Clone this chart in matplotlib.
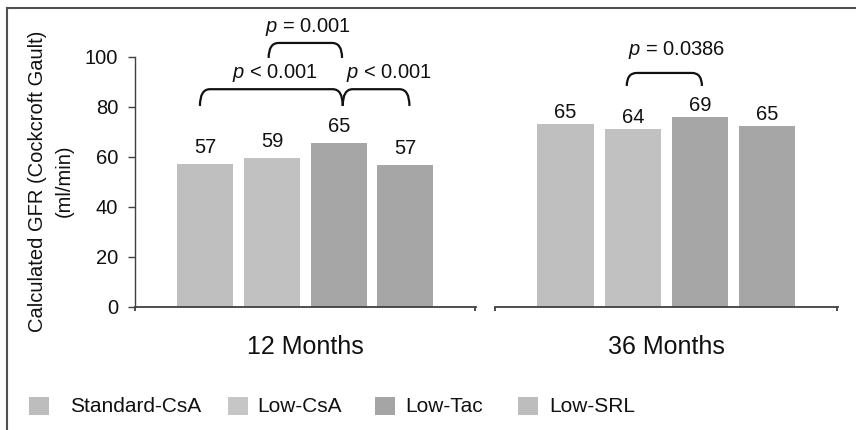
import matplotlib
matplotlib.use("Agg")
import matplotlib.pyplot as plt
from matplotlib.path import Path
from matplotlib.patches import PathPatch, Rectangle
from matplotlib.lines import Line2D
import matplotlib.transforms as mtransforms

plt.rcParams['font.family'] = ['Liberation Sans', 'DejaVu Sans']
plt.rcParams['mathtext.fontset'] = 'custom'
plt.rcParams['mathtext.rm'] = 'Liberation Sans'
plt.rcParams['mathtext.it'] = 'Liberation Sans:italic'

# ---- data ----
groups = ["12 Months", "36 Months"]
treatments = ["Standard-CsA", "Low-CsA", "Low-Tac", "Low-SRL"]
heights_12 = [57.0, 59.3, 65.3, 56.7]
heights_36 = [73.0, 71.0, 76.0, 72.4]
labels_12 = ["57", "59", "65", "57"]
labels_36 = ["65", "64", "69", "65"]
yticks = [0, 20, 40, 60, 80, 100]
# comparisons: (panel, bar_i, bar_j, p text)
comparisons = [
    (0, 1, 2, r"$p$ = 0.001"),
    (0, 0, 2, r"$p$ < 0.001"),
    (0, 2, 3, r"$p$ < 0.001"),
    (1, 1, 2, r"$p$ = 0.0386"),
]

# ---- styles ----
bar_colors = ['#bfbfbf', '#c1c1c1', '#a6a6a6', '#a6a6a6']
legend_colors = ['#bdbdbd', '#c6c6c6', '#a5a5a5', '#bdbdbd']
spine_c = '#404040'
txt_c = '#111111'

W, H = 856, 430
fig = plt.figure(figsize=(W / 100, H / 100), dpi=100)

def fx(px):
    return px / W

def fy(py):
    return 1 - py / H

base_y = 306.7
ax_h = 300.0
ax1 = fig.add_axes([fx(135), fy(base_y), fx(475.7 - 135), ax_h / H])
ax2 = fig.add_axes([fx(495), fy(base_y), fx(837.7 - 495), ax_h / H])

xlim = (-1.053, 4.053)
x = list(range(len(treatments)))
panels = [(ax1, heights_12, labels_12, 12.0), (ax2, heights_36, labels_36, 8.3)]

for ax, hts, labs, off in panels:
    ax.bar(x, hts, width=0.84, color=bar_colors, edgecolor='none', zorder=2)
    for xi, h, lab in zip(x, hts, labs):
        ax.annotate(lab, (xi, h), xytext=(0, off), textcoords='offset points',
                    ha='center', va='center', fontsize=14.5, color=txt_c)
    ax.set_xlim(*xlim)
    ax.set_ylim(0, 120)
    for s in ['top', 'right']:
        ax.spines[s].set_visible(False)
    ax.spines['bottom'].set_color(spine_c)
    ax.spines['bottom'].set_linewidth(1.3)
    ax.set_xticks([xlim[0] + 0.005, xlim[1] - 0.005])
    ax.set_xticklabels([])
    ax.tick_params(axis='x', length=3, width=1.3, color=spine_c, direction='out')

ax1.spines['left'].set_color(spine_c)
ax1.spines['left'].set_linewidth(1.0)
ax1.spines['left'].set_bounds(0, 100)
ax1.set_yticks(yticks)
ax1.set_yticklabels([str(v) for v in yticks])
ax1.tick_params(axis='y', length=5, width=1.0, color=spine_c, pad=7,
                labelsize=14.5, labelcolor=txt_c)
ax2.spines['left'].set_visible(False)
ax2.set_yticks([])

# group labels
for ax, g in zip([ax1, ax2], groups):
    tr = mtransforms.blended_transform_factory(ax.transData, ax.transAxes)
    ax.text(1.5, -(347 - base_y) / ax_h, g, transform=tr, ha='center',
            va='center', fontsize=18, color=txt_c)

# y label
fig.text(fx(51), fy(181), "Calculated GFR (Cockcroft Gault)\n(ml/min)",
         rotation=90, ha='center', va='center', multialignment='center',
         fontsize=14.5, linespacing=1.55, color=txt_c)

# brackets
def brace(ax, x0, x1, ytop, ybot, dx=0.15):
    verts = [(x0, ybot), (x0, ytop), (x0 + dx, ytop),
             (x1 - dx, ytop), (x1, ytop), (x1, ybot)]
    codes = [Path.MOVETO, Path.CURVE3, Path.CURVE3,
             Path.LINETO, Path.CURVE3, Path.CURVE3]
    ax.add_patch(PathPatch(Path(verts, codes), fill=False, lw=1.6,
                           edgecolor='#111111', clip_on=False, zorder=3))

# bracket geometry (positions) for each comparison
br_geom = [
    # x0 shift, x1 shift, ytop, ybot, text dx, text y
    (-0.05, 0.05, 105.5, 99.5, 0.04, 111.9),
    (-0.08, 0.06, 87.0, 80.3, 0.05, 93.5),
    (0.06, 0.06, 87.0, 80.3, 0.25, 93.5),
    (-0.09, 0.03, 93.5, 88.3, 0.16, 102.7),
]
axes = [ax1, ax2]
for (pi, i, j, ptxt), (s0, s1, yt, yb, tdx, ty) in zip(comparisons, br_geom):
    ax = axes[pi]
    brace(ax, i + s0, j + s1, yt, yb)
    ax.text((i + j) / 2 + tdx, ty, ptxt, ha='center', va='center',
            fontsize=14.5, color=txt_c, clip_on=False)

# legend (drawn manually to match entry spacing)
leg_square_x = [29, 228, 375, 518]
leg_text_x = [70, 257, 405, 549]
leg_y = 406
for name, c, sx, tx in zip(treatments, legend_colors, leg_square_x, leg_text_x):
    fig.add_artist(Rectangle((fx(sx), fy(leg_y + 9)), fx(20), 18 / H,
                             transform=fig.transFigure, facecolor=c,
                             edgecolor='none'))
    fig.text(fx(tx), fy(leg_y), name, ha='left', va='center', fontsize=15,
             color=txt_c)

# figure frame (left and top edges)
fig.add_artist(Line2D([fx(7), fx(7)], [0, fy(8)], transform=fig.transFigure,
                      color='#505050', lw=1.5))
fig.add_artist(Line2D([fx(7), 1], [fy(8), fy(8)], transform=fig.transFigure,
                      color='#505050', lw=1.5))

fig.savefig("out.png", dpi=100)
